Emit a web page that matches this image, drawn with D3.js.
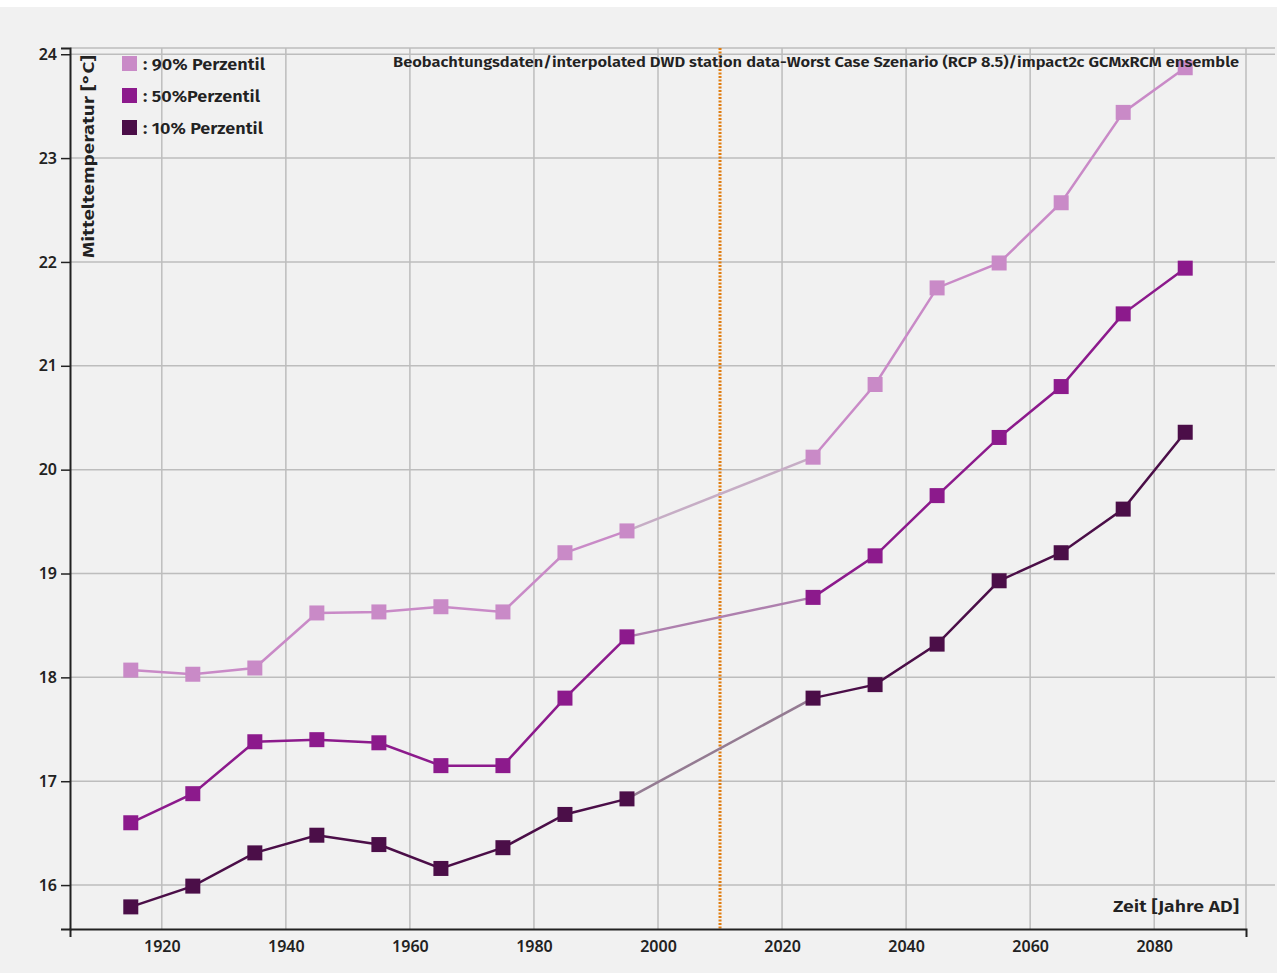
<!DOCTYPE html>
<html>
<head>
<meta charset="utf-8">
<script src="https://cdn.jsdelivr.net/npm/d3@7"></script>
<style>
  body { margin: 0; background: #ffffff; }
  text { font-family: "Fira Sans", "Noto Sans", "Open Sans", sans-serif; }
</style>
</head>
<body>
<script>
// years of the decade means: observed and projected
const obsYears = [1915, 1925, 1935, 1945, 1955, 1965, 1975, 1985, 1995];
const projYears = [2025, 2035, 2045, 2055, 2065, 2075, 2085];

// 90% / 50% / 10% percentile, observed then projected
const p90 = [18.07, 18.03, 18.09, 18.62, 18.63, 18.68, 18.63, 19.20, 19.41,
             20.12, 20.82, 21.75, 21.99, 22.57, 23.44, 23.87];
const p50 = [16.60, 16.88, 17.38, 17.40, 17.37, 17.15, 17.15, 17.80, 18.39,
             18.77, 19.17, 19.75, 20.31, 20.80, 21.50, 21.94];
const p10 = [15.79, 15.99, 16.31, 16.48, 16.39, 16.16, 16.36, 16.68, 16.83,
             17.80, 17.93, 18.32, 18.93, 19.20, 19.62, 20.36];

const seriesNames = [": 90% Perzentil", ": 50%Perzentil", ": 10% Perzentil"];
const seriesColors = ["#c98ac7", "#8c1a8c", "#4b0e48"];

const xTicks = [1920, 1940, 1960, 1980, 2000, 2020, 2040, 2060, 2080];
const yTicks = [16, 17, 18, 19, 20, 21, 22, 23, 24];
const markerYear = 2010;

const W = 1280, H = 973;
const margin = { left: 70, right: 34, top: 48, bottom: 44 };

const svg = d3.select("body").append("svg")
  .attr("width", W).attr("height", H);

// grey canvas
svg.append("rect")
  .attr("x", 0).attr("y", 7)
  .attr("width", 1277).attr("height", H - 7)
  .attr("fill", "#f1f1f1");

const x = d3.scaleLinear()
  .domain([1905.2, 2094.8])
  .range([margin.left, W - margin.right]);
const y = d3.scaleLinear()
  .domain([15.577, 24.06])
  .range([H - margin.bottom, margin.top]);

const years = obsYears.concat(projYears);
const series = [p90, p50, p10].map((vals, i) => ({
  name: seriesNames[i],
  color: seriesColors[i],
  points: years.map((yr, j) => ({ year: yr, value: vals[j] }))
}));

// grid
const grid = svg.append("g").attr("stroke", "#bdbdbd").attr("stroke-width", 1.5);
grid.selectAll("line.h")
  .data(yTicks.concat([y.domain()[1]]))
  .enter().append("line")
  .attr("x1", x.range()[0]).attr("x2", 1275)
  .attr("y1", d => y(d)).attr("y2", d => y(d));
grid.selectAll("line.v")
  .data(xTicks.concat([x.domain()[1]]))
  .enter().append("line")
  .attr("x1", d => x(d)).attr("x2", d => x(d))
  .attr("y1", y.range()[0]).attr("y2", y.range()[1]);

// orange marker for the end of observations
svg.append("line")
  .attr("x1", x(markerYear)).attr("x2", x(markerYear))
  .attr("y1", y.range()[1]).attr("y2", y.range()[0])
  .attr("stroke", "#e07d10")
  .attr("stroke-width", 3)
  .attr("stroke-dasharray", "2,1.5");

// axes
const xAxis = svg.append("g")
  .attr("transform", `translate(0,${y.range()[0]})`)
  .call(d3.axisBottom(x).tickValues(xTicks).tickFormat(d3.format("d"))
    .tickSizeInner(0).tickSizeOuter(8).tickPadding(12));
const yAxis = svg.append("g")
  .attr("transform", `translate(${x.range()[0]},0)`)
  .call(d3.axisLeft(y).tickValues(yTicks).tickSizeInner(9).tickSizeOuter(9).tickPadding(4));

[xAxis, yAxis].forEach(a => {
  a.select(".domain").attr("stroke", "#222").attr("stroke-width", 2);
  a.selectAll(".tick line").attr("stroke", "#222").attr("stroke-width", 1.5);
  a.selectAll(".tick text")
    .attr("fill", "#222")
    .attr("font-size", 16)
    .attr("font-weight", 600)
    .style("font-family", "'Noto Sans', sans-serif");
});

const line = d3.line().x(d => x(d.year)).y(d => y(d.value));
const nObs = obsYears.length;

const lines = svg.append("g");
series.forEach(s => {
  const obs = s.points.slice(0, nObs);
  const proj = s.points.slice(nObs);
  const gap = [obs[obs.length - 1], proj[0]];
  // faded connector over the years without data
  lines.append("path").datum(gap)
    .attr("d", line).attr("fill", "none")
    .attr("stroke", d3.interpolateRgb(s.color, "#c4c4c4")(0.6))
    .attr("stroke-width", 2.5);
  [obs, proj].forEach(seg => {
    lines.append("path").datum(seg)
      .attr("d", line).attr("fill", "none")
      .attr("stroke", s.color).attr("stroke-width", 2.5);
  });
  lines.append("g").selectAll("rect")
    .data(s.points)
    .enter().append("rect")
    .attr("x", d => x(d.year) - 7.5)
    .attr("y", d => y(d.value) - 7.5)
    .attr("width", 15).attr("height", 15)
    .attr("fill", s.color);
});

// legend
const legend = svg.append("g").attr("transform", "translate(122,56)");
series.forEach((s, i) => {
  const g = legend.append("g").attr("transform", `translate(0,${i * 32})`);
  g.append("rect").attr("width", 15).attr("height", 15).attr("fill", s.color);
  g.append("text")
    .attr("x", 21).attr("y", 14)
    .attr("font-size", 17).attr("font-weight", 600)
    .attr("fill", "#222")
    .attr("textLength", [122, 117, 120][i])
    .attr("lengthAdjust", "spacingAndGlyphs")
    .text(s.name);
});

// y label
svg.append("text")
  .attr("transform", "translate(94,258) rotate(-90)")
  .attr("font-size", 16).attr("font-weight", 600)
  .attr("fill", "#222")
  .attr("textLength", 203)
  .attr("lengthAdjust", "spacingAndGlyphs")
  .text("Mitteltemperatur [°C]");

// source / scenario note
svg.append("text")
  .attr("x", 1239).attr("y", 67)
  .attr("text-anchor", "end")
  .attr("font-size", 15).attr("font-weight", 600)
  .attr("fill", "#222")
  .attr("textLength", 846)
  .attr("lengthAdjust", "spacingAndGlyphs")
  .text("Beobachtungsdaten/interpolated DWD station data-Worst Case Szenario (RCP 8.5)/impact2c GCMxRCM ensemble");

// x label
svg.append("text")
  .attr("x", 1239).attr("y", 912)
  .attr("text-anchor", "end")
  .attr("font-size", 17).attr("font-weight", 600)
  .attr("fill", "#222")
  .attr("textLength", 126)
  .attr("lengthAdjust", "spacingAndGlyphs")
  .text("Zeit [Jahre AD]");
</script>
</body>
</html>
